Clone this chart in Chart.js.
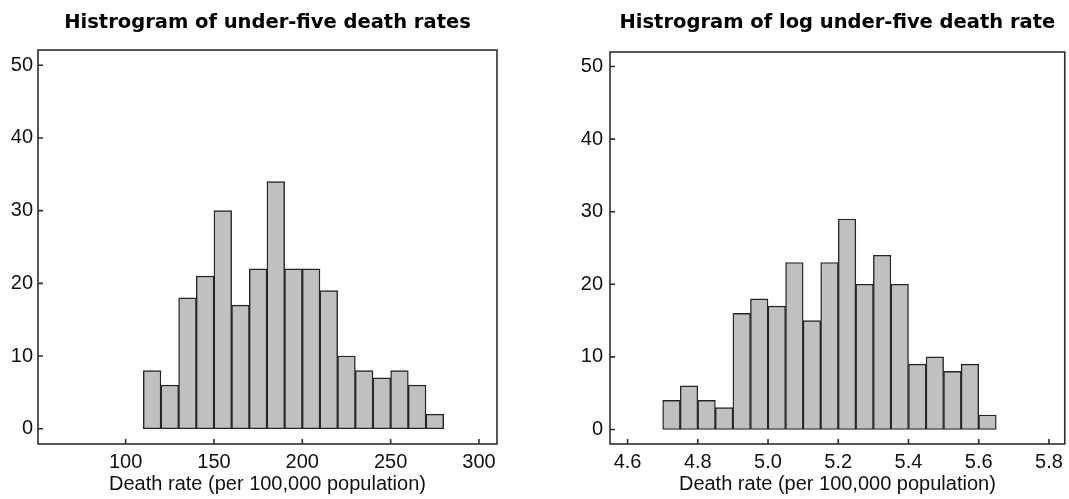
<!DOCTYPE html>
<html>
<head>
<meta charset="utf-8">
<script src="https://cdn.jsdelivr.net/npm/chart.js@4/dist/chart.umd.min.js"></script>
<style>
  html, body { margin: 0; padding: 0; background: #fff; }
  #wrap { position: relative; width: 1069px; height: 499px; overflow: hidden; }
  canvas { position: absolute; top: 0; }
  #leftChart { left: 0; }
  #rightChart { left: 540px; }
</style>
</head>
<body>
<div id="wrap">
  <canvas id="leftChart" width="530" height="499"></canvas>
  <canvas id="rightChart" width="529" height="499"></canvas>
</div>
<script>
// histogram of raw death rates (bin width 10)
const leftBinStarts = [110, 120, 130, 140, 150, 160, 170, 180, 190, 200, 210, 220, 230, 240, 250, 260, 270];
const leftBinWidth = 10;
const leftCounts = [8, 6, 18, 21, 30, 17, 22, 34, 22, 22, 19, 10, 8, 7, 8, 6, 2];
const leftXTicks = [100, 150, 200, 250, 300];

// histogram of log death rates (bin width 0.05)
const rightBinStarts = [4.70, 4.75, 4.80, 4.85, 4.90, 4.95, 5.00, 5.05, 5.10, 5.15, 5.20, 5.25, 5.30, 5.35, 5.40, 5.45, 5.50, 5.55, 5.60];
const rightBinWidth = 0.05;
const rightCounts = [4, 6, 4, 3, 16, 18, 17, 23, 15, 23, 29, 20, 24, 20, 9, 10, 8, 9, 2];
const rightXTicks = [4.6, 4.8, 5.0, 5.2, 5.4, 5.6, 5.8];
const rightXLabels = ['4.6', '4.8', '5.0', '5.2', '5.4', '5.6', '5.8'];

const yTicks = [0, 10, 20, 30, 40, 50];

const xTitle = 'Death rate (per 100,000 population)';

// box around the plot + short inward tick marks
const framePlugin = {
    id: 'frame',
    afterDatasetsDraw(chart) {
        const { ctx, chartArea: a, scales: { x, y } } = chart;
        ctx.save();
        ctx.strokeStyle = '#2e2e2e';
        ctx.lineWidth = 1.6;
        ctx.strokeRect(a.left, a.top, a.right - a.left, a.bottom - a.top);
        ctx.beginPath();
        x.ticks.forEach((t, i) => {
            const px = x.getPixelForTick(i);
            ctx.moveTo(px, a.bottom);
            ctx.lineTo(px, a.bottom - 5);
        });
        y.ticks.forEach((t, i) => {
            const py = y.getPixelForTick(i);
            ctx.moveTo(a.left, py);
            ctx.lineTo(a.left + 5, py);
        });
        ctx.stroke();
        ctx.restore();
    }
};

function makeHist(id, cfg) {
    const data = cfg.counts.map((c, i) => ({ x: cfg.starts[i] + cfg.width / 2, y: c }));
    return new Chart(document.getElementById(id), {
        type: 'bar',
        data: {
            datasets: [{
                data,
                backgroundColor: '#c0c0c0',
                borderColor: '#262626',
                borderWidth: 1.4,
                borderSkipped: false,
                barPercentage: 1,
                categoryPercentage: 1
            }]
        },
        options: {
            responsive: false,
            animation: false,
            layout: { padding: { left: 0, right: cfg.padRight, top: 0, bottom: 0 } },
            plugins: {
                legend: { display: false },
                tooltip: { enabled: false },
                title: {
                    display: true,
                    text: cfg.title,
                    fullSize: false,
                    color: '#000',
                    font: { family: 'DejaVu Sans', weight: 'bold', size: 19.5 },
                    padding: { top: 11, bottom: cfg.titleBottom }
                }
            },
            scales: {
                x: {
                    type: 'linear',
                    offset: false,
                    min: cfg.xMin,
                    max: cfg.xMax,
                    grid: { display: false, drawTicks: false, offset: false },
                    border: { display: false },
                    afterBuildTicks: s => { s.ticks = cfg.xTicks.map(v => ({ value: v })); },
                    afterFit: s => { s.height = 55; },
                    ticks: {
                        autoSkip: false,
                        maxRotation: 0,
                        padding: 6,
                        color: '#111',
                        font: { family: 'Liberation Sans', size: 20 },
                        callback: (v, i) => cfg.xLabels ? cfg.xLabels[i] : String(v)
                    },
                    title: {
                        display: true,
                        text: xTitle,
                        color: '#111',
                        font: { family: 'Liberation Sans', size: 20 },
                        padding: { top: 0, bottom: 3 }
                    }
                },
                y: {
                    min: cfg.yMin,
                    max: cfg.yMax,
                    grid: { display: false, drawTicks: false },
                    border: { display: false },
                    afterBuildTicks: s => { s.ticks = yTicks.map(v => ({ value: v })); },
                    afterFit: s => { s.width = cfg.yWidth; },
                    ticks: {
                        padding: cfg.yPad,
                        color: '#111',
                        font: { family: 'Liberation Sans', size: 20 }
                    }
                }
            }
        },
        plugins: [framePlugin]
    });
}

makeHist('leftChart', {
    title: 'Histrogram of under-five death rates',
    starts: leftBinStarts, width: leftBinWidth, counts: leftCounts,
    xTicks: leftXTicks, xMin: 50.4, xMax: 310.2,
    yMin: -2.1, yMax: 52.1,
    yWidth: 38, yPad: 5, padRight: 33, titleBottom: 15.6
});

makeHist('rightChart', {
    title: 'Histrogram of log under-five death rate',
    starts: rightBinStarts, width: rightBinWidth, counts: rightCounts,
    xTicks: rightXTicks, xLabels: rightXLabels, xMin: 4.55, xMax: 5.845,
    yMin: -2, yMax: 52,
    yWidth: 70, yPad: 7, padRight: 3, titleBottom: 17.6
});
</script>
</body>
</html>
